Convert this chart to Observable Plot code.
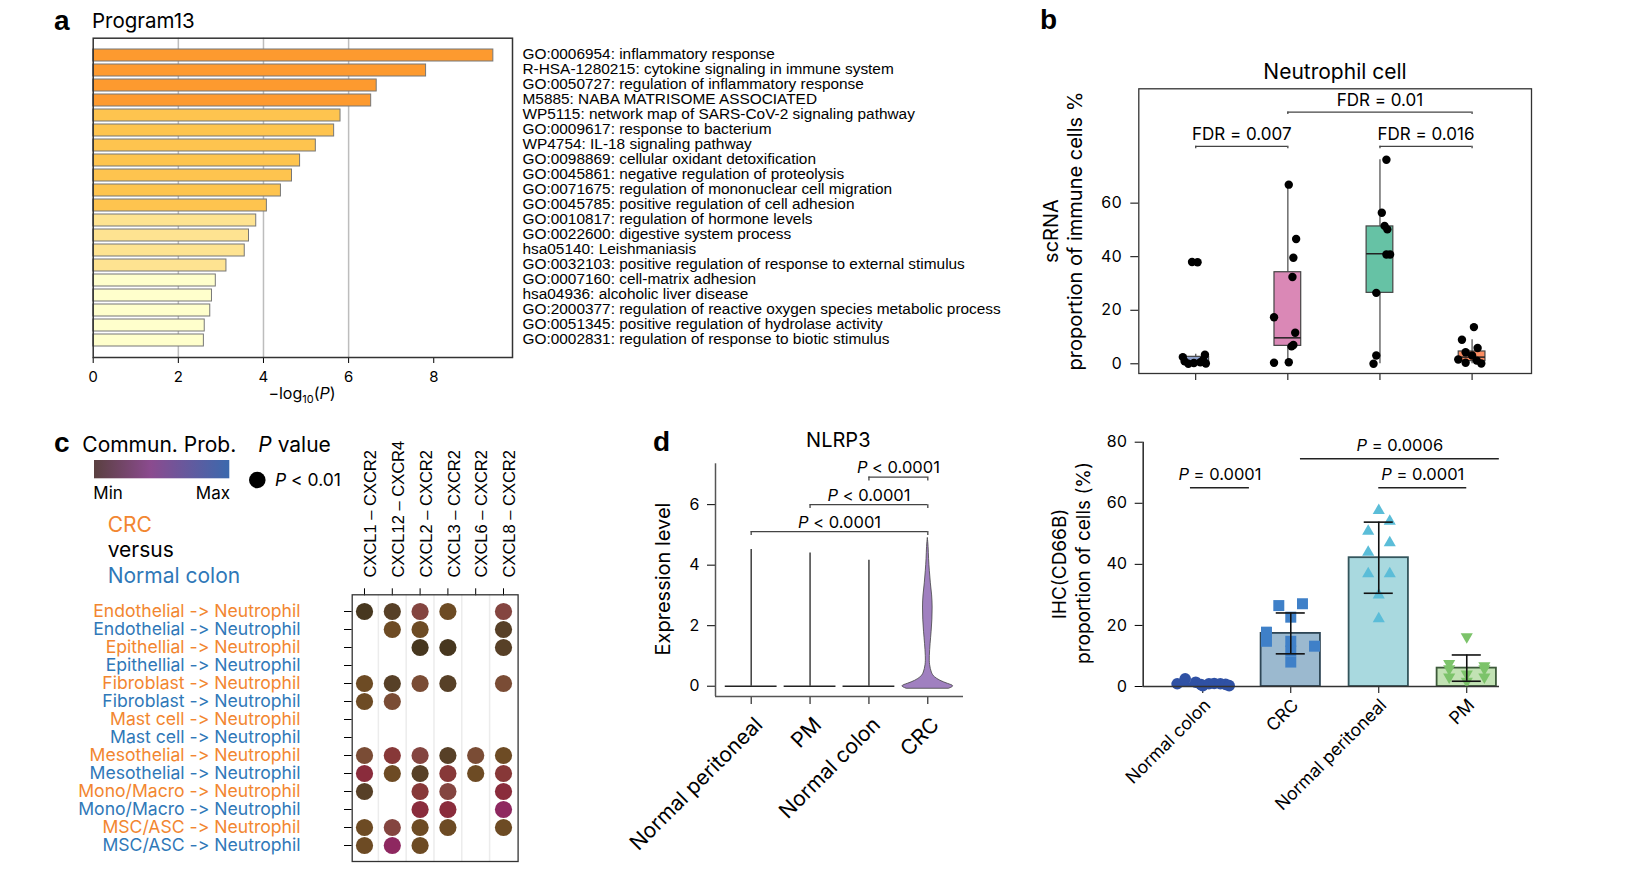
<!DOCTYPE html>
<html><head><meta charset="utf-8">
<script src="https://cdn.jsdelivr.net/npm/d3@7"></script>
<script src="https://cdn.jsdelivr.net/npm/@observablehq/plot@0.6"></script>
<style>
body{margin:0;background:#fff;}
#root{position:relative;width:1647px;height:873px;overflow:hidden;background:#fff;font-feature-settings:"calt" 0, "liga" 0;font-variant-ligatures:none;}
#root text{font-feature-settings:"calt" 0, "liga" 0;}
</style></head><body><div id="root"></div>
<script>
// ---------------- DATA ----------------
// panel a
const goTerms = [
"GO:0006954: inflammatory response",
"R-HSA-1280215: cytokine signaling in immune system",
"GO:0050727: regulation of inflammatory response",
"M5885: NABA MATRISOME ASSOCIATED",
"WP5115: network map of SARS-CoV-2 signaling pathway",
"GO:0009617: response to bacterium",
"WP4754: IL-18 signaling pathway",
"GO:0098869: cellular oxidant detoxification",
"GO:0045861: negative regulation of proteolysis",
"GO:0071675: regulation of mononuclear cell migration",
"GO:0045785: positive regulation of cell adhesion",
"GO:0010817: regulation of hormone levels",
"GO:0022600: digestive system process",
"hsa05140: Leishmaniasis",
"GO:0032103: positive regulation of response to external stimulus",
"GO:0007160: cell-matrix adhesion",
"hsa04936: alcoholic liver disease",
"GO:2000377: regulation of reactive oxygen species metabolic process",
"GO:0051345: positive regulation of hydrolase activity",
"GO:0002831: regulation of response to biotic stimulus"];
const goLogP = [9.40, 7.82, 6.66, 6.53, 5.81, 5.66, 5.23, 4.86, 4.67, 4.41, 4.08, 3.83, 3.66, 3.56, 3.13, 2.88, 2.79, 2.75, 2.62, 2.60];
const goTicks = [0, 2, 4, 6, 8];
const goGrid = [2, 4, 6];
const goBins = [3, 4, 6];

// panel b
const bGroups = ["Normal colon", "CRC", "Normal peritoneal", "PM"];
const bQ1  = [0.2, 6.7, 26.5, 1.0];
const bMed = [1.0, 9.7, 41.1, 2.5];
const bQ3  = [2.6, 34.2, 51.3, 4.6];
const bLo  = [0.0, 0.5, 0.0, 0.0];
const bHi  = [3.6, 66.9, 76.2, 9.0];
const bValues = [
  [38.0, 37.9, 3.4, 2.5, 1.4, 0.9, 0.6, 0.3, 0.1, 0.0],
  [66.9, 46.6, 39.6, 32.4, 17.4, 11.6, 7.0, 6.5, 0.4, 0.6],
  [76.2, 56.4, 51.5, 50.2, 40.8, 40.8, 26.5, 3.1, 0.0],
  [13.7, 9.0, 5.9, 4.3, 3.1, 1.6, 1.2, 0.4, 0.1]];
const bJitter = [
  [-0.04, 0.02, 0.10, -0.14, 0.08, -0.12, 0.05, -0.02, 0.11, -0.08],
  [0.01, 0.09, 0.06, 0.05, -0.15, 0.08, 0.06, 0.04, -0.15, 0.01],
  [0.07, 0.02, 0.05, 0.08, 0.07, 0.11, -0.04, -0.04, -0.07],
  [0.02, -0.11, 0.06, -0.07, 0.0, -0.15, 0.05, -0.07, 0.10]];
const bTicks = [0, 20, 40, 60];
const bTestFrom = [0, 1, 2];
const bTestTo = [1, 3, 3];
const bTestY = [81.2, 94.0, 81.2];
const bTestLabel = ["FDR = 0.007", "FDR = 0.01", "FDR = 0.016"];

// panel c
const cPairs = ["CXCL1 – CXCR2", "CXCL12 – CXCR4", "CXCL2 – CXCR2", "CXCL3 – CXCR2", "CXCL6 – CXCR2", "CXCL8 – CXCR2"];
const cSenders = ["Endothelial", "Epithellial", "Fibroblast", "Mast cell", "Mesothelial", "Mono/Macro", "MSC/ASC"];
const cConds = ["CRC", "Normal colon"];
// communication probability level (1 = min ... 8 = max), 0 = not significant
const cLevel = [
  [1, 2, 5, 3, 0, 5],
  [0, 3, 3, 0, 0, 2],
  [0, 0, 1, 1, 0, 2],
  [0, 0, 0, 0, 0, 0],
  [3, 2, 4, 2, 0, 4],
  [3, 4, 0, 0, 0, 0],
  [0, 0, 0, 0, 0, 0],
  [0, 0, 0, 0, 0, 0],
  [4, 6, 5, 2, 4, 3],
  [7, 3, 2, 6, 3, 6],
  [2, 0, 6, 5, 0, 7],
  [0, 0, 7, 7, 0, 8],
  [3, 5, 3, 3, 0, 3],
  [3, 8, 3, 0, 0, 0]];

// panel d
const dGroups = ["Normal peritoneal", "PM", "Normal colon", "CRC"];
const dMax = [4.52, 4.40, 4.16];
const dCrcLevel = [-0.08, 0, 0.08, 0.18, 0.3, 0.45, 0.7, 1.0, 1.4, 1.8, 2.2, 2.6, 3.0, 3.4, 3.8, 4.2, 4.6, 4.9];
const dCrcDensity = [0.85, 1, 0.79, 0.5, 0.28, 0.16, 0.09, 0.08, 0.11, 0.15, 0.18, 0.19, 0.17, 0.12, 0.08, 0.05, 0.03, 0];
const dTicks = [0, 2, 4, 6];
const dTestFrom = [0, 1, 2];
const dTestTo = [3, 3, 3];
const dTestY = [5.11, 6.0, 6.91];
const dTestLabel = ["P < 0.0001", "P < 0.0001", "P < 0.0001"];

// panel e
const eGroups = ["Normal colon", "CRC", "Normal peritoneal", "PM"];
const eValues = [
  [0.9, 2.5, 1.4, 0.6, 0.3, 0.9, 1.0, 0.9, 0.7, 0.3],
  [26.5, 27.1, 22.7, 17.8, 14.8, 14.8, 13.2, 11.6, 8.0],
  [57.6, 54.1, 50.8, 47.1, 44.0, 36.9, 36.9, 30.0, 22.2],
  [16.3, 7.5, 6.8, 5.8, 5.8, 4.1, 3.1, 3.1, 1.7]];
const eJitter = [
  [-0.29, -0.2, -0.08, -0.02, 0.0, 0.07, 0.13, 0.2, 0.26, 0.3],
  [-0.136, 0.133, 0, -0.276, -0.276, 0, 0.27, 0, 0],
  [0, 0.125, -0.12, 0.125, -0.12, -0.12, 0.125, 0, 0],
  [0, -0.2, 0.2, -0.2, 0.2, 0, -0.2, 0.2, 0]];
const eTicks = [0, 20, 40, 60, 80];
const eTestX1 = [-0.14, 1.11, 2.0];
const eTestX2 = [0.53, 3.37, 3.0];
const eTestY = [65.1, 74.6, 65.1];
const eTestLabel = ["P = 0.0001", "P = 0.0006", "P = 0.0001"];

// ---------------- STYLES ----------------
const FONT = "Inter, 'Open Sans', sans-serif";
const ARIAL = "'Liberation Sans', Arial, sans-serif";
const ORANGE = "#f28630", BLUE = "#2f78b8";
const goColors = ["#ffffcc", "#fee391", "#fec44f", "#fd9a2f"];
const bFill = ["#8da0cb", "#da88b6", "#66c2a5", "#fc8d62"];
const cPalette = [null, "#47371f", "#574027", "#6d4b24", "#7a4c35", "#844540", "#873838", "#8a2c3c", "#8e2860"];
const eFill = ["#2f51a4", "#9bb9cf", "#a9d9df", "#c2e2b4"];
const eStroke = ["#2f51a4", "#2e4656", "#34555c", "#3d5a3a"];
const ePoint = ["#2f51a4", "#3f80c8", "#5bbdd8", "#7cc36a"];

const root = document.getElementById("root");
function place(node, left, top) {
  node.style.position = "absolute";
  node.style.left = left + "px";
  node.style.top = top + "px";
  node.style.maxWidth = "none";
  node.style.overflow = "visible";
  root.appendChild(node);
  d3.select(node).selectAll("text").each(function () {
    const t = this.textContent;
    if (/^P [<=]/.test(t) && this.children.length === 0) {
      this.textContent = "";
      d3.select(this).append("tspan").attr("font-style", "italic").text("P");
      d3.select(this).append("tspan").text(t.slice(1));
    }
  });
}
const baseStyle = {fontFamily: FONT, fontSize: "16px", color: "#000", background: "transparent"};

// ---------------- PANEL A ----------------
const aData = goTerms.map((t, i) => ({term: t, v: goLogP[i]}));
place(Plot.plot({
  width: 1010, height: 400,
  marginLeft: 92.7, marginTop: 37.7, marginRight: 1010 - 512, marginBottom: 400 - 357,
  style: {...baseStyle, fontSize: "15px"},
  x: {domain: [0, 9.85], ticks: goTicks, tickSize: 6, tickPadding: 8, label: null},
  y: {domain: goTerms, axis: null, padding: 0.2, insetTop: 6.5, insetBottom: 5.8},
  color: {type: "threshold", domain: goBins, range: goColors},
  marks: [
    Plot.ruleX(goGrid, {stroke: "#bdbdbd", strokeWidth: 1.5}),
    Plot.barX(aData, {x: "v", y: "term", fill: "v", stroke: "#777", strokeWidth: 1}),
    Plot.frame({stroke: "#333", strokeWidth: 1.5}),
    Plot.text(aData, {y: "term", text: "term", frameAnchor: "right", dx: 10, dy: -1.5, textAnchor: "start", fontSize: 15.4, fontFamily: ARIAL})
  ]
}), 0, 0);

// ---------------- PANEL B ----------------
const bStats = bGroups.map((g, i) => ({i, q1: bQ1[i], med: bMed[i], q3: bQ3[i], lo: bLo[i], hi: bHi[i]}));
const bPts = bValues.flatMap((vs, g) => vs.map((v, k) => ({g, v, j: bJitter[g][k]})));
const bTests = bTestY.map((y, k) => ({a: bTestFrom[k], b: bTestTo[k], y, label: bTestLabel[k]}));
const bEnds = bTests.flatMap(t => [{x: t.a, y: t.y}, {x: t.b, y: t.y}]);
const BW = 0.145;
place(Plot.plot({
  width: 560, height: 350,
  marginLeft: 138.3, marginTop: 48.3, marginRight: 29, marginBottom: 17,
  style: baseStyle,
  x: {domain: [-0.618, 3.645], ticks: [0, 1, 2, 3], tickSize: 7, tickFormat: () => "", label: null},
  y: {domain: [-3.62, 102.7], ticks: bTicks, tickSize: 8, tickPadding: 9, label: null},
  color: {type: "identity"},
  marks: [
    Plot.frame({stroke: "#333", strokeWidth: 1.3}),
    Plot.ruleX(bStats, {x: "i", y1: "lo", y2: "hi", stroke: "#555", strokeWidth: 1.3}),
    Plot.rect(bStats, {x1: d => d.i - BW, x2: d => d.i + BW, y1: "q1", y2: "q3", fill: d => bFill[d.i], stroke: "#444", strokeWidth: 1.2}),
    Plot.ruleY(bStats, {y: "med", x1: d => d.i - BW, x2: d => d.i + BW, stroke: "#222", strokeWidth: 1.5}),
    Plot.dot(bPts, {x: d => d.g + d.j, y: "v", r: 4.2, fill: "#000"}),
    Plot.ruleY(bTests, {y: "y", x1: "a", x2: "b", stroke: "#444", strokeWidth: 1.3}),
    Plot.ruleX(bEnds, {x: "x", y1: d => d.y - 0.9, y2: "y", stroke: "#444", strokeWidth: 1.3}),
    Plot.text(bTests, {x: d => (d.a + d.b) / 2, y: "y", text: "label", lineAnchor: "bottom", dy: -6, fontSize: 17})
  ]
}), 1000, 40);

// ---------------- PANEL C ----------------
const cRows = cSenders.flatMap((s, si) => cConds.map((c, ci) => ({r: si * 2 + ci, label: `${s} -> Neutrophil`, cond: ci})));
const cCells = cLevel.flatMap((row, r) => row.map((lv, c) => ({r, c, lv}))).filter(d => d.lv > 0);
place(Plot.plot({
  width: 540, height: 473,
  marginLeft: 351.7, marginTop: 194.3, marginRight: 22.4, marginBottom: 12,
  style: baseStyle,
  x: {domain: [-0.442, 5.525], axis: "top", ticks: d3.range(cPairs.length), tickSize: 7, tickFormat: () => "", label: null},
  y: {type: "point", domain: d3.range(cRows.length), padding: 0.74, tickSize: 7.7, tickFormat: () => "", label: null},
  color: {type: "identity"},
  marks: [
    Plot.ruleX(d3.range(cPairs.length - 1).map(i => i + 0.5), {stroke: "#ececec", strokeWidth: 1.5}),
    Plot.frame({stroke: "#333", strokeWidth: 1.3}),
    Plot.dot(cCells, {x: "c", y: "r", r: 8.6, fill: d => cPalette[d.lv]}),
    Plot.text(cRows, {y: "r", text: "label", frameAnchor: "left", dx: -51.7, textAnchor: "end", fill: d => d.cond === 0 ? ORANGE : BLUE, fontSize: 17.6}),
    Plot.text(cPairs, {x: (d, i) => i, text: d => d, frameAnchor: "top", dy: -17.3, rotate: -90, textAnchor: "start", fontSize: 16.5, fontFamily: ARIAL})
  ]
}), 0, 400);

// ---------------- PANEL D ----------------
const dFlat = dMax.map((m, i) => ({i, base: 0, max: m}));
const dCrc = dCrcLevel.map((y, k) => ({y, w: dCrcDensity[k]}));
const dTests = dTestY.map((y, k) => ({a: dTestFrom[k], b: dTestTo[k], y, label: dTestLabel[k]}));
const dEnds = dTests.flatMap(t => [{x: t.a, y: t.y}, {x: t.b, y: t.y}]);
const dX = [-0.606, 3.606], dY = [-0.34, 7.35];
const VW = 0.43;
place(Plot.plot({
  width: 380, height: 453,
  marginLeft: 115, marginTop: 43.3, marginRight: 17, marginBottom: 177,
  style: baseStyle,
  x: {domain: dX, ticks: [0, 1, 2, 3], tickSize: 8, tickFormat: () => "", label: null},
  y: {domain: dY, ticks: dTicks, tickSize: 8, tickPadding: 8, label: null},
  marks: [
    Plot.ruleX([dX[0]], {stroke: "#555", strokeWidth: 1.5}),
    Plot.ruleY([dY[0]], {stroke: "#555", strokeWidth: 1.5}),
    Plot.ruleY(dFlat, {y: "base", x1: d => d.i - 0.44, x2: d => d.i + 0.44, stroke: "#222", strokeWidth: 1.5}),
    Plot.ruleX(dFlat, {x: "i", y1: "base", y2: "max", stroke: "#222", strokeWidth: 1.3}),
    Plot.areaX(dCrc, {y: "y", x1: d => 3 - d.w * VW, x2: d => 3 + d.w * VW, fill: "#a080c0", stroke: "#444", strokeWidth: 0.8, curve: "natural"}),
    Plot.ruleY(dTests, {y: "y", x1: "a", x2: "b", stroke: "#444", strokeWidth: 1.3}),
    Plot.ruleX(dEnds, {x: "x", y1: d => d.y - 0.13, y2: "y", stroke: "#444", strokeWidth: 1.3}),
    Plot.text(dTests, {x: d => (d.a + d.b) / 2, y: "y", text: "label", lineAnchor: "bottom", dy: -4, fontSize: 16.5}),
    Plot.text(dGroups, {x: (d, i) => i, text: d => d, frameAnchor: "bottom", dx: 2, dy: 19, rotate: -45, textAnchor: "end", lineAnchor: "top", fontSize: 21})
  ]
}), 600, 420);

// ---------------- PANEL E ----------------
const eStats = eValues.map((vs, i) => ({i, mean: d3.mean(vs), sd: d3.deviation(vs)}));
const ePts = eValues.flatMap((vs, g) => vs.map((v, k) => ({g, v, j: eJitter[g][k]})));
const eTests = eTestY.map((y, k) => ({a: eTestX1[k], b: eTestX2[k], y, label: eTestLabel[k]}));
const eErr = eStats.filter(d => d.i > 0);
const eCaps = eErr.flatMap(d => [{i: d.i, y: d.mean - d.sd}, {i: d.i, y: d.mean + d.sd}]);
const triDown = {draw(ctx, size) {
  const y = Math.sqrt(size / (Math.sqrt(3) * 3)), s3 = Math.sqrt(3);
  ctx.moveTo(0, y * 2); ctx.lineTo(-s3 * y, -y); ctx.lineTo(s3 * y, -y); ctx.closePath();
}};
const eX = [-0.677, 3.372];
const EB = 0.337, EC = 0.165;
place(Plot.plot({
  width: 560, height: 453,
  marginLeft: 162.7, marginTop: 21.7, marginRight: 41, marginBottom: 187,
  style: baseStyle,
  x: {domain: eX, ticks: [0, 1, 2, 3], tickSize: 7, tickFormat: () => "", label: null},
  y: {domain: [0, 80], ticks: eTicks, tickSize: 8, tickPadding: 8, label: null},
  color: {type: "identity"},
  marks: [
    Plot.rect(eStats, {x1: d => d.i - EB, x2: d => d.i + EB, y1: () => 0, y2: "mean", fill: d => eFill[d.i], stroke: d => eStroke[d.i], strokeWidth: 1.8}),
    Plot.dot(ePts.filter(d => d.g === 0), {x: d => d.g + d.j, y: "v", r: 5.8, fill: ePoint[0]}),
    Plot.dot(ePts.filter(d => d.g === 1), {x: d => d.g + d.j, y: "v", r: 6.2, symbol: "square", fill: ePoint[1]}),
    Plot.dot(ePts.filter(d => d.g === 2), {x: d => d.g + d.j, y: "v", r: 4.5, symbol: "triangle", fill: ePoint[2]}),
    Plot.dot(ePts.filter(d => d.g === 3), {x: d => d.g + d.j, y: "v", r: 4.5, symbol: triDown, fill: ePoint[3]}),
    Plot.ruleX(eErr, {x: "i", y1: d => d.mean - d.sd, y2: d => d.mean + d.sd, stroke: "#111", strokeWidth: 1.6}),
    Plot.ruleY(eCaps, {y: "y", x1: d => d.i - EC, x2: d => d.i + EC, stroke: "#111", strokeWidth: 1.6}),
    Plot.ruleX([eX[0]], {y1: () => 0, y2: () => 80, stroke: "#333", strokeWidth: 1.6}),
    Plot.ruleY([0], {stroke: "#333", strokeWidth: 1.6}),
    Plot.ruleY(eTests, {y: "y", x1: "a", x2: "b", stroke: "#222", strokeWidth: 1.5}),
    Plot.text(eTests, {x: d => (d.a + d.b) / 2, y: "y", text: "label", lineAnchor: "bottom", dy: -7.5, fontSize: 16.5}),
    Plot.text(eGroups, {x: (d, i) => i, text: d => d, frameAnchor: "bottom", dx: 0, dy: 11, rotate: -45, textAnchor: "end", lineAnchor: "top", fontSize: 17.6})
  ]
}), 980, 420);

// ---------------- OVERLAY TEXT ----------------
const ov = d3.create("svg").attr("width", 1647).attr("height", 873)
  .style("position", "absolute").style("left", "0px").style("top", "0px").style("pointer-events", "none");
function T(x, y, parts, o = {}) {
  const t = ov.append("text").attr("x", x).attr("y", y)
    .attr("font-family", o.family || FONT).attr("font-size", o.size || 16)
    .attr("fill", o.fill || "#000").attr("text-anchor", o.anchor || "start");
  if (o.weight) t.attr("font-weight", o.weight);
  if (o.rotate) t.attr("transform", `rotate(${o.rotate},${x},${y})`);
  if (typeof parts === "string") t.text(parts);
  else for (const p of parts) {
    const s = t.append("tspan").text(typeof p === "string" ? p : p.t);
    if (p.i) s.attr("font-style", "italic");
    if (p.dy) s.attr("dy", p.dy);
    if (p.fs) s.attr("font-size", p.fs);
  }
  return t;
}
const LET = {size: 28, weight: 700, family: ARIAL};
T(54, 30, "a", LET);
T(92, 28.3, "Program13", {size: 20.5});
T(302, 399, ["−log", {t: "10", dy: 4, fs: 11}, {t: "(", dy: -4}, {t: "P", i: true}, ")"], {size: 16, anchor: "middle"});

T(1040, 29, "b", LET);
T(1335, 79.3, "Neutrophil cell", {size: 21, anchor: "middle"});
T(1058, 231, "scRNA", {size: 20, anchor: "middle", rotate: -90});
T(1082, 231, "proportion of immune cells %", {size: 20, anchor: "middle", rotate: -90});

T(54, 451.7, "c", LET);
T(82.3, 451.7, "Commun. Prob.", {size: 21});
T(258.3, 451.7, [{t: "P", i: true}, " value"], {size: 21});
const defs = ov.append("defs");
const grad = defs.append("linearGradient").attr("id", "cpgrad");
[["0%", "#5a4040"], ["42%", "#8b4b8f"], ["100%", "#3b69ad"]].forEach(([o, c]) => grad.append("stop").attr("offset", o).attr("stop-color", c));
ov.append("rect").attr("x", 94).attr("y", 460).attr("width", 135.3).attr("height", 18.3).attr("fill", "url(#cpgrad)");
T(93.3, 499.3, "Min", {size: 17});
T(230, 499.3, "Max", {size: 17, anchor: "end"});
ov.append("circle").attr("cx", 257.3).attr("cy", 480).attr("r", 8.3).attr("fill", "#000");
T(275, 486, [{t: "P", i: true}, " < 0.01"], {size: 17.5});
T(107.7, 531.7, "CRC", {size: 21, fill: ORANGE});
T(107.7, 556.7, "versus", {size: 21});
T(107.7, 583.3, "Normal colon", {size: 21, fill: BLUE});

T(653, 451, "d", LET);
T(838.3, 446.7, "NLRP3", {size: 20, anchor: "middle"});
T(670, 579, "Expression level", {size: 20, anchor: "middle", rotate: -90});

T(1066, 564, "IHC(CD66B)", {size: 19, anchor: "middle", rotate: -90});
T(1090, 563, "proportion of cells (%)", {size: 19, anchor: "middle", rotate: -90});

root.appendChild(ov.node());
</script></body></html>
